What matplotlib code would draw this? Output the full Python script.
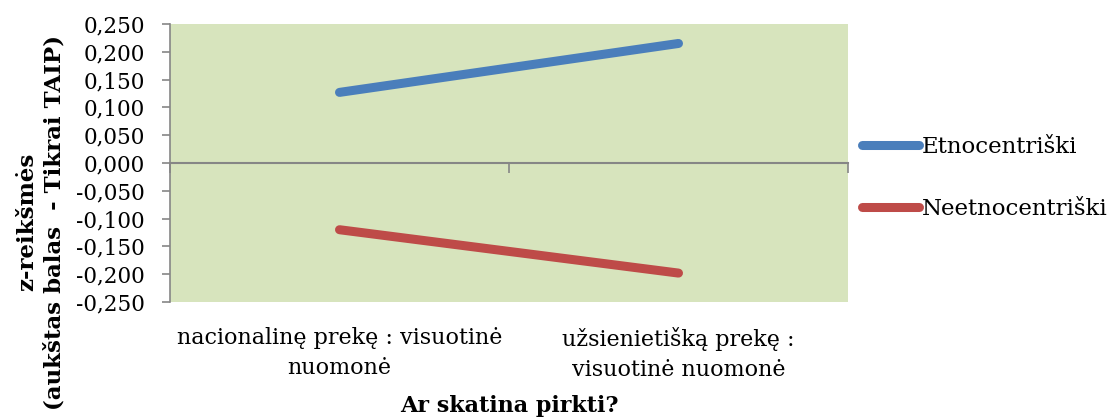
import numpy as np
import matplotlib
matplotlib.use("Agg")
from matplotlib import pyplot as plt

categories = ["nacionalinę prekę : visuotinė\nnuomonė",
              "užsienietišką prekę :\nvisuotinė nuomonė"]
etnocentriski = [0.127, 0.215]
neetnocentriski = [-0.120, -0.198]
y_ticks = [-0.25, -0.2, -0.15, -0.1, -0.05, 0.0, 0.05, 0.1, 0.15, 0.2, 0.25]

plt.rcParams['font.family'] = ['DejaVu Serif']
grey = "#868686"

fig = plt.figure(figsize=(11.08, 4.19), dpi=100)
ax = fig.add_axes([170/1108, 1 - 302/419, 678/1108, 278/419])
ax.set_facecolor("#D7E4BD")

x = np.arange(len(categories))
ax.plot(x, etnocentriski, color="#4A7EBB", lw=6.5, solid_capstyle="round", label="Etnocentriški")
ax.plot(x, neetnocentriski, color="#BE4B48", lw=6.5, solid_capstyle="round", label="Neetnocentriški")

ax.set_xlim(-0.5, 1.5)
ax.set_ylim(-0.25, 0.25)
ax.set_yticks(y_ticks)
ax.set_yticklabels([("%.3f" % v).replace(".", ",") for v in y_ticks])
ax.tick_params(axis="y", length=6, width=1.2, color=grey, pad=12, labelsize=15.5)

ax.set_xticks(x)
ax.set_xticklabels(categories, fontsize=16, linespacing=1.5)
ax.tick_params(axis="x", length=0, pad=18)

for s in ["top", "right", "bottom"]:
    ax.spines[s].set_visible(False)
ax.spines["left"].set_color(grey)
ax.spines["left"].set_linewidth(1.2)

# horizontal axis crossing at zero
zero_axis = ax.secondary_xaxis(0.5)
zero_axis.set_xticks([-0.5, 0.5, 1.5])
zero_axis.set_xticklabels([])
zero_axis.tick_params(direction="in", length=7, color=grey, width=1.2)
for sp in zero_axis.spines.values():
    sp.set_color(grey)
    sp.set_linewidth(1.5)

fig.text(509/1108, 1 - 406/419, "Ar skatina pirkti?", ha="center", va="center",
         fontsize=16, fontweight="bold")
fig.text(41/1108, 1 - 222/419, "z-reikšmės\n(aukštas balas  - Tikrai TAIP)",
         rotation=90, ha="center", va="center", fontsize=16.5, fontweight="bold",
         linespacing=1.3, multialignment="center")

fig.legend(loc="center left", bbox_to_anchor=(862/1108, 1 - 178/419), frameon=False,
           fontsize=16.5, handlelength=2.5, handletextpad=0.1, labelspacing=1.75,
           borderpad=0, borderaxespad=0)

fig.savefig("out.png", dpi=100)
